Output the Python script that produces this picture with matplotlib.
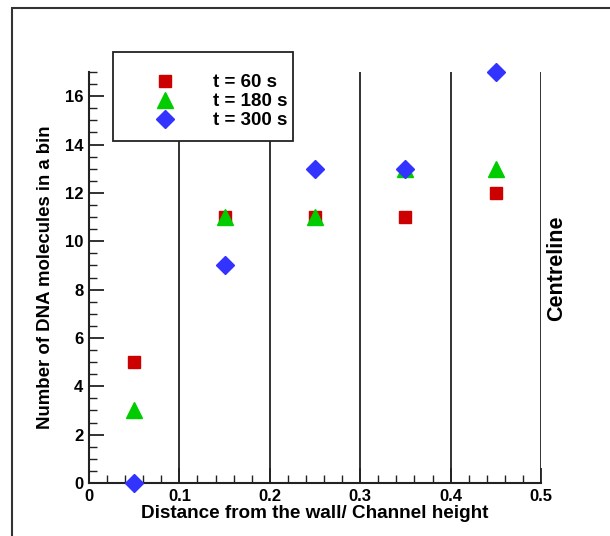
import matplotlib
matplotlib.use("Agg")
import matplotlib.pyplot as plt
from matplotlib.patches import Rectangle
from matplotlib.ticker import MultipleLocator

plt.rcParams['font.family'] = ['Liberation Sans', 'DejaVu Sans']

x = [0.05, 0.15, 0.25, 0.35, 0.45]
t60 = [5, 11, 11, 11, 12]
t180 = [3, 11, 11, 13, 13]
t300 = [0, 9, 13, 13, 17]
labels = ['t = 60 s', 't = 180 s', 't = 300 s']
bin_edges = [0.1, 0.2, 0.3, 0.4, 0.5]

W, H = 610, 536
fig = plt.figure(figsize=(W/100, H/100), dpi=100)
ax = fig.add_axes([89/W, 53/H, (541-89)/W, (483-72)/H])

# outer frame
fig.patches.append(Rectangle((12/W, -0.05), 1.2, 1 - 8/H + 0.05, transform=fig.transFigure,
                             fill=False, edgecolor='#333333', linewidth=1.5, clip_on=False))

for xe in bin_edges:
    ax.plot([xe, xe], [0, 17], color='#222222', linewidth=1.3, zorder=1)

h1, = ax.plot(x, t60, linestyle='none', marker='s', markersize=9, color='#cc0000', zorder=3, clip_on=False)
h2, = ax.plot(x, t180, linestyle='none', marker='^', markersize=11, color='#00cc00', zorder=3, clip_on=False)
h3, = ax.plot(x, t300, linestyle='none', marker='D', markersize=9, color='#3333ff', zorder=3, clip_on=False)

ax.set_xlim(0, 0.5)
ax.set_ylim(0, 17)
ax.xaxis.set_major_locator(MultipleLocator(0.1))
ax.xaxis.set_minor_locator(MultipleLocator(0.02))
ax.yaxis.set_major_locator(MultipleLocator(2))
ax.yaxis.set_minor_locator(MultipleLocator(0.5))
ax.set_xticks([0, 0.1, 0.2, 0.3, 0.4, 0.5])
ax.set_xticklabels(['0', '0.1', '0.2', '0.3', '0.4', '0.5'])
ax.tick_params(which='major', direction='in', length=11, width=1.3, labelsize=12, pad=4, color='#222222')
ax.tick_params(which='minor', direction='in', length=6, width=1.0, color='#222222')
for lab in ax.get_xticklabels() + ax.get_yticklabels():
    lab.set_fontweight('bold')

for s in ['top', 'right']:
    ax.spines[s].set_visible(False)
for s in ['left', 'bottom']:
    ax.spines[s].set_linewidth(1.5)
    ax.spines[s].set_color('#222222')

ax.set_xlabel('Distance from the wall/ Channel height', fontsize=13.6, fontweight='bold', labelpad=1)
ax.set_ylabel('Number of DNA molecules in a bin', fontsize=13.4, fontweight='bold', labelpad=8)

fig.text(557/W, 1 - 268/H, 'Centreline', rotation=90, ha='center', va='center',
         fontsize=15.5, fontweight='bold')

# legend frame
ax.add_patch(Rectangle((113/W, 1 - 141/H), (293-113)/W, (141-52)/H, transform=fig.transFigure,
                       facecolor='white', edgecolor='#222222', linewidth=1.3, zorder=4, clip_on=False))

leg = ax.legend([h1, h2, h3], labels, loc='upper left', bbox_to_anchor=((133-89)/452, (483-74)/411),
                frameon=False, prop={'weight': 'bold', 'size': 13.5}, handletextpad=0.85, borderpad=0,
                labelspacing=0.1, borderaxespad=0, handlelength=3.4)
leg.set_zorder(6)

fig.savefig('out.png', dpi=100)
